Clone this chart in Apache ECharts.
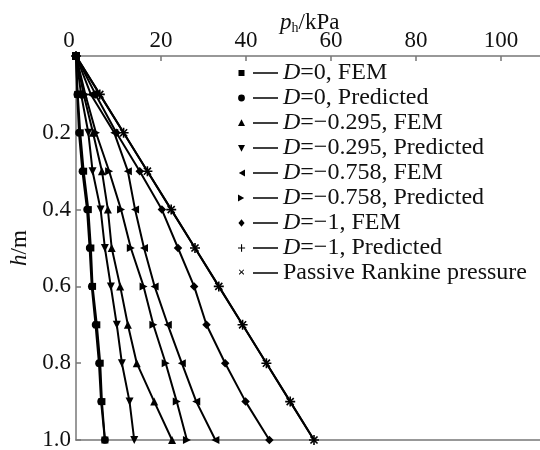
<!DOCTYPE html>
<html><head><meta charset="utf-8">
<script src="https://cdn.jsdelivr.net/npm/echarts@6/dist/echarts.min.js"></script>
<style>html,body{margin:0;padding:0;background:#fff}#c{width:540px;height:450px}</style>
</head><body><div id="c"></div>
<script>
const depths = [0, 0.1, 0.2, 0.3, 0.4, 0.5, 0.6, 0.7, 0.8, 0.9, 1.0];
const xTicks = [0, 20, 40, 60, 80, 100];
const yTicks = [0, 0.2, 0.4, 0.6, 0.8, 1.0];
const seriesNames = ['D=0, FEM', 'D=0, Predicted', 'D=−0.295, FEM', 'D=−0.295, Predicted',
  'D=−0.758, FEM', 'D=−0.758, Predicted', 'D=−1, FEM', 'D=−1, Predicted', 'Passive Rankine pressure'];
const d0Fem      = [0, 0.4, 1.0, 1.8, 2.9, 3.5, 3.9, 4.9, 5.7, 6.1, 6.8];
const d0Pred     = [0, 0.3, 0.7, 1.5, 2.6, 3.2, 3.7, 4.6, 5.4, 5.9, 6.8];
const d0295Fem   = [0, 1.8, 4.0, 6.1, 7.5, 8.4, 10.4, 12.2, 14.3, 18.4, 22.6];
const d0295Pred  = [0, 1.2, 2.9, 3.9, 5.8, 6.8, 8.2, 9.6, 10.8, 12.6, 13.7];
const d0758Fem   = [0, 3.5, 9.0, 12.2, 13.9, 16.0, 18.5, 21.6, 24.9, 28.3, 32.8];
const d0758Pred  = [0, 2.2, 4.7, 7.8, 10.6, 12.9, 15.9, 18.2, 21.1, 23.7, 26.1];
const d1Fem      = [0, 4.6, 9.5, 15.0, 20.2, 24.0, 27.8, 30.7, 35.1, 39.9, 45.5];
const d1Pred     = [0, 5.6, 11.2, 16.8, 22.4, 28.0, 33.6, 39.2, 44.8, 50.4, 56.0];
const rankine    = [0, 5.6, 11.2, 16.8, 22.4, 28.0, 33.6, 39.2, 44.8, 50.4, 56.0];

const values = [d0Fem, d0Pred, d0295Fem, d0295Pred, d0758Fem, d0758Pred, d1Fem, d1Pred, rankine];
const plusPath = 'path://M4.2,0 H5.8 V4.2 H10 V5.8 H5.8 V10 H4.2 V5.8 H0 V4.2 H4.2 Z';
const symbols = [
  {s:'rect', r:0, z:7}, {s:'circle', r:0, z:7.5}, {s:'triangle', r:0, z:8}, {s:'triangle', r:180, z:8},
  {s:'triangle', r:90, z:8}, {s:'triangle', r:-90, z:8}, {s:'diamond', r:0, z:8.5},
  {s:plusPath, r:0, z:10}, {s:plusPath, r:45, z:10}
];
const tail = ' M15,4.2 L40,4.2 L40,5.8 L15,5.8 Z M0,0 L0.01,0 Z M40,10 L39.99,10 Z';
const legendIcons = [
  'path://M0.5,2 L6.5,2 L6.5,8 L0.5,8 Z' + tail,
  'path://M3.5,1.6 A3.4,3.4 0 1 1 3.49,1.6 Z' + tail,
  'path://M3.5,1.3 L7,8 L0,8 Z' + tail,
  'path://M0,2 L7,2 L3.5,8.7 Z' + tail,
  'path://M0.8,5 L7,1.4 L7,8.6 Z' + tail,
  'path://M0,1.4 L6.2,5 L0,8.6 Z' + tail,
  'path://M3.5,1.3 L6.6,5 L3.5,8.7 L0.4,5 Z' + tail,
  'path://M3,1.3 H4.1 V4.4 H7.1 V5.6 H4.1 V8.7 H3 V5.6 H0 V4.4 H3 Z' + tail,
  'path://M0.8,2.1 L1.5,1.4 L3.5,3.4 L5.5,1.4 L6.2,2.1 L4.2,4.1 L6.2,6.1 L5.5,6.8 L3.5,4.8 L1.5,6.8 L0.8,6.1 L2.8,4.1 Z' + tail
];

const chart = echarts.init(document.getElementById('c'), null, {renderer: 'canvas'});
const font = 'Liberation Serif';
const axisColor = '#777';

const series = seriesNames.map((name, i) => ({
  name: name,
  type: 'line',
  xAxisIndex: 0,
  data: depths.map((h, k) => [values[i][k], h]),
  symbol: symbols[i].s,
  symbolRotate: symbols[i].r,
  symbolSize: symbols[i].z,
  showAllSymbol: true,
  lineStyle: {color: '#000', width: 2},
  itemStyle: {color: '#000', borderWidth: 0},
  emphasis: {disabled: true},
  animation: false,
  z: 3 + i
}));

chart.setOption({
  animation: false,
  backgroundColor: '#fff',
  textStyle: {fontFamily: font, color: '#111'},
  grid: {left: 76, right: -3.5, top: 56, bottom: 10, containLabel: false, outerBoundsMode: 'none'},
  xAxis: [{
    type: 'value', position: 'top', min: xTicks[0], max: 110, interval: xTicks[1] - xTicks[0],
    name: '{i|p}{s|h}/kPa', nameLocation: 'middle', nameGap: 21, nameMoveOverlap: false,
    nameTextStyle: {fontFamily: font, fontSize: 23, color: '#111',
      rich: {i: {fontStyle: 'italic', fontSize: 23, fontFamily: font}, s: {fontSize: 14, fontFamily: font, verticalAlign: 'bottom', padding: [10, 0, 0, 0]}}},
    axisLine: {show: true, lineStyle: {color: axisColor, width: 1.5}},
    axisTick: {show: true, inside: true, length: 5, lineStyle: {color: axisColor, width: 1.5}},
    axisLabel: {show: true, margin: 4, fontSize: 23, fontFamily: font, color: '#111', showMaxLabel: false,
      formatter: v => xTicks.indexOf(v) < 0 ? '' : (v === 0 ? '{z|0}' : String(v)),
      rich: {z: {fontSize: 23, fontFamily: font, color: '#111', padding: [0, 14, 0, 0]}}},
    splitLine: {show: false}
  }, {
    type: 'value', position: 'bottom', min: 0, max: 110,
    axisLine: {show: true, onZero: false, lineStyle: {color: axisColor, width: 1.5}},
    axisTick: {show: false}, axisLabel: {show: false}, splitLine: {show: false}
  }],
  yAxis: {
    type: 'value', inverse: true, min: yTicks[0], max: yTicks[yTicks.length - 1], interval: 0.2,
    name: '{i|h}/m', nameLocation: 'middle', nameGap: 34, nameRotate: 90,
    nameTextStyle: {fontFamily: font, fontSize: 23, color: '#111', rich: {i: {fontStyle: 'italic', fontSize: 23, fontFamily: font}}},
    axisLine: {show: true, onZero: false, lineStyle: {color: axisColor, width: 1.5}},
    axisTick: {show: true, inside: true, length: 5, lineStyle: {color: axisColor, width: 1.5}},
    axisLabel: {margin: 5, fontSize: 23, fontFamily: font, color: '#111',
      formatter: v => v === 0 ? '' : v.toFixed(1)},
    splitLine: {show: false}
  },
  legend: {
    orient: 'vertical', left: 233, top: 56, itemWidth: 40, itemHeight: 10, itemGap: 1,
    selectedMode: false,
    data: seriesNames.map((n, i) => ({name: n, icon: legendIcons[i], itemStyle: {color: '#000'}})),
    formatter: n => n.indexOf('D=') === 0 ? '{i|D}' + n.slice(1) : n,
    textStyle: {fontFamily: font, fontSize: 24, color: '#111', lineHeight: 23,
      rich: {i: {fontStyle: 'italic', fontFamily: font, fontSize: 24, color: '#111', lineHeight: 23}}}
  },
  series: series
});
</script></body></html>
